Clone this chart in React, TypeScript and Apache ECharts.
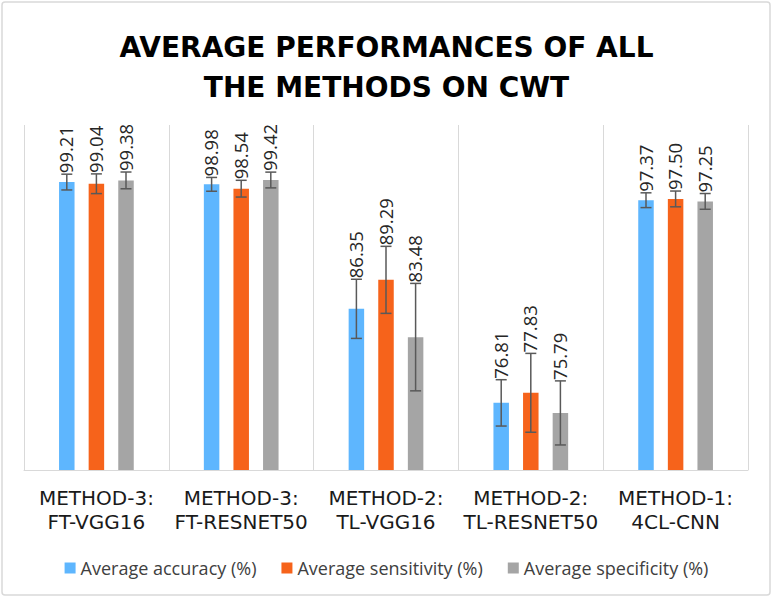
import React, { useEffect, useRef } from "react";
import * as echarts from "echarts";

const categories = [
  "METHOD-3:\nFT-VGG16",
  "METHOD-3:\nFT-RESNET50",
  "METHOD-2:\nTL-VGG16",
  "METHOD-2:\nTL-RESNET50",
  "METHOD-1:\n4CL-CNN",
];
const seriesNames = [
  "Average accuracy (%)",
  "Average sensitivity (%)",
  "Average specificity (%)",
];
const accuracy = [99.21, 98.98, 86.35, 76.81, 97.37];
const sensitivity = [99.04, 98.54, 89.29, 77.83, 97.5];
const specificity = [99.38, 99.42, 83.48, 75.79, 97.25];
const accuracyErr = [0.8, 0.7, 3.0, 2.35, 0.75];
const sensitivityErr = [1.0, 0.85, 3.4, 4.0, 0.8];
const specificityErr = [0.85, 0.8, 5.45, 3.25, 0.8];
const colors = ["#5EB6FE", "#F6631B", "#A5A5A5"];

const BAR_W = 15.5;
const SPACING = 29.6;

export default function App() {
  const ref = useRef<HTMLDivElement>(null);
  useEffect(() => {
    if (!ref.current) return;
    const chart = echarts.init(ref.current, null, { renderer: "svg" });
    const values = [accuracy, sensitivity, specificity];
    const errs = [accuracyErr, sensitivityErr, specificityErr];

    const barSeries = values.map((vals, i) => ({
      name: seriesNames[i],
      type: "bar",
      data: vals,
      barWidth: BAR_W,
      barGap: "91%",
      itemStyle: { color: colors[i] },
      z: 2,
    }));

    const errSeries = values.map((vals, i) => ({
      name: "err" + i,
      type: "custom",
      z: 5,
      encode: { x: 0, y: 1 },
      data: vals.map((v, k) => [k, v, errs[i][k]]),
      renderItem: (params: any, api: any) => {
        const k = api.value(0);
        const v = api.value(1);
        const e = api.value(2);
        const hi = api.coord([k, v + e]);
        const lo = api.coord([k, v - e]);
        const cx = hi[0] + (i - 1) * SPACING;
        const cap = 5.5;
        const ls = { stroke: "#595959", lineWidth: 1.5 };
        return {
          type: "group",
          children: [
            { type: "line", shape: { x1: cx, y1: hi[1], x2: cx, y2: lo[1] }, style: ls },
            { type: "line", shape: { x1: cx - cap, y1: hi[1], x2: cx + cap, y2: hi[1] }, style: ls },
            { type: "line", shape: { x1: cx - cap, y1: lo[1], x2: cx + cap, y2: lo[1] }, style: ls },
            {
              type: "text",
              x: cx - 1,
              y: hi[1] - 1,
              rotation: Math.PI / 2,
              style: {
                text: v.toFixed(2),
                fontSize: 18.5,
                fontFamily: "Open Sans",
                fill: "#262626",
                align: "left",
                verticalAlign: "middle",
              },
            },
          ],
        };
      },
    }));

    chart.setOption({
      animation: false,
      backgroundColor: "#ffffff",
      title: {
        text: "AVERAGE PERFORMANCES OF ALL\nTHE METHODS ON CWT",
        left: "center",
        top: 22,
        textStyle: {
          fontFamily: "DejaVu Sans",
          fontWeight: "bold",
          fontSize: 28,
          lineHeight: 40,
          color: "#000000",
        },
      },
      legend: {
        data: seriesNames,
        bottom: 19,
        left: "center",
        itemWidth: 11,
        itemHeight: 11,
        itemGap: 25,
        icon: "rect",
        textStyle: { fontFamily: "Open Sans", fontSize: 18, color: "#404040" },
      },
      grid: { left: 24, right: 25, top: 125, bottom: 131 },
      xAxis: {
        type: "category",
        data: categories,
        axisTick: { show: false },
        axisLine: { lineStyle: { color: "#d9d9d9", width: 1 } },
        splitLine: { show: true, lineStyle: { color: "#d9d9d9", width: 1 } },
        axisLabel: {
          interval: 0,
          margin: 16,
          fontFamily: "DejaVu Sans",
          fontSize: 20,
          lineHeight: 24,
          color: "#1a1a1a",
        },
      },
      yAxis: {
        type: "value",
        min: 70,
        max: 105,
        show: false,
        splitLine: { show: false },
      },
      graphic: [
        {
          type: "rect",
          shape: { x: 2, y: 2, width: 768, height: 593, r: 3 },
          style: { fill: "none", stroke: "#d9d9d9", lineWidth: 1.5 },
          silent: true,
        },
      ],
      series: [...barSeries, ...errSeries],
    });
    return () => chart.dispose();
  }, []);
  return (
    <div
      ref={ref}
      style={{ position: "absolute", left: 0, top: 0, width: 773, height: 601 }}
    />
  );
}
